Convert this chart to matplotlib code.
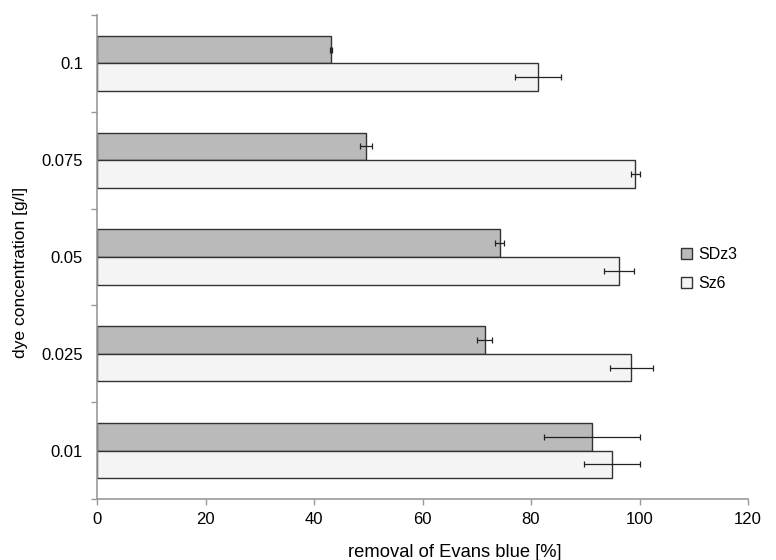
import numpy as np
import matplotlib.pyplot as plt
from matplotlib.ticker import FixedLocator

plt.rcParams["font.family"] = ["Liberation Sans", "DejaVu Sans"]

# Data
concentrations = ["0.01", "0.025", "0.05", "0.075", "0.1"]
sdz3_values = [91.2, 71.5, 74.2, 49.6, 43.1]
sdz3_errors = [8.8, 1.4, 0.8, 1.1, 0.2]
sz6_values = [94.9, 98.5, 96.2, 99.2, 81.3]
sz6_errors = [5.1, 3.9, 2.7, 0.8, 4.2]

fig = plt.figure(figsize=(7.76, 5.6), dpi=100)
ax = fig.add_axes([97 / 776, 61 / 560, (748 - 97) / 776, (499 - 15) / 560])

y = np.arange(len(concentrations))
h = 0.285
edge = "#333333"
err_kw = dict(ecolor="#222222", elinewidth=0.9, capsize=2, capthick=0.9)

ax.barh(y + h / 2, sdz3_values, height=h, xerr=sdz3_errors, color="#bababa",
        edgecolor=edge, linewidth=1.0, error_kw=err_kw, label="SDz3")
ax.barh(y - h / 2, sz6_values, height=h, xerr=sz6_errors, color="#f4f4f4",
        edgecolor=edge, linewidth=1.0, error_kw=err_kw, label="Sz6")

ax.set_xlim(0, 120)
ax.set_ylim(-0.5, len(concentrations) - 0.5)
ax.set_xticks([0, 20, 40, 60, 80, 100, 120])
ax.set_yticks(y)
ax.set_yticklabels(concentrations)
ax.yaxis.set_minor_locator(FixedLocator(np.arange(-0.5, len(concentrations), 1.0)))

for side in ("top", "right"):
    ax.spines[side].set_visible(False)
for side in ("left", "bottom"):
    ax.spines[side].set_color("#999999")
    ax.spines[side].set_linewidth(1.2)

fs = 12
ax.tick_params(axis="y", which="major", length=0, pad=10, labelsize=fs)
ax.tick_params(axis="y", which="minor", length=4, color="#999999", width=1)
ax.tick_params(axis="x", length=4, color="#999999", width=1, labelsize=fs, pad=5)

ax.set_xlabel("removal of Evans blue [%]", fontsize=13.2, va="center")
ax.xaxis.set_label_coords(0.55, -0.11)
ax.set_ylabel("dye concentration [g/l]", fontsize=12.6, va="center")
ax.yaxis.set_label_coords(-0.118, 0.469)

ax.legend(loc="center left", bbox_to_anchor=(0.875, 0.475), frameon=False,
          fontsize=11.5, handlelength=0.7, handleheight=0.7, handletextpad=0.4,
          labelspacing=0.9)

fig.savefig("out.png", dpi=100)
